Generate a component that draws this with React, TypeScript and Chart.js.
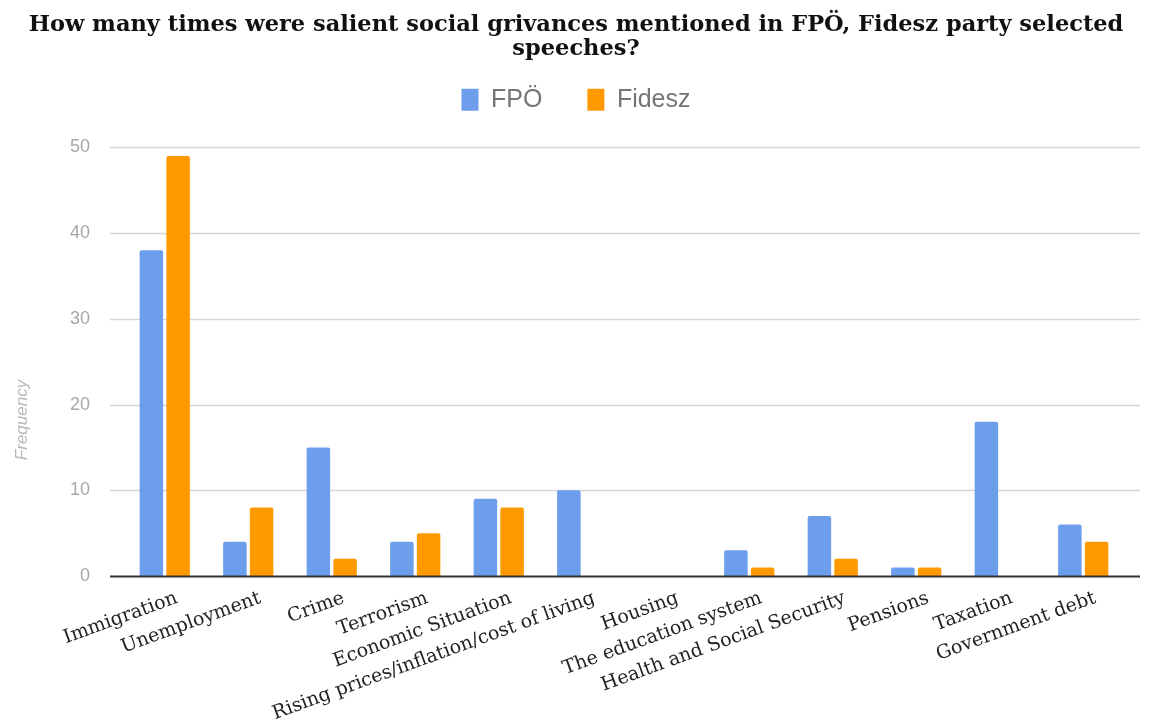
import React, { useEffect, useRef } from 'react';
import { Chart, registerables, layouts } from 'chart.js';

Chart.register(...registerables);

const titleLines = [
  'How many times were salient social grivances mentioned in FPÖ, Fidesz party selected',
  'speeches?',
];
const categories = [
  'Immigration',
  'Unemployment',
  'Crime',
  'Terrorism',
  'Economic Situation',
  'Rising prices/inflation/cost of living',
  'Housing',
  'The education system',
  'Health and Social Security',
  'Pensions',
  'Taxation',
  'Government debt',
];
const fpoValues = [38, 4, 15, 4, 9, 10, 0, 3, 7, 1, 18, 6];
const fideszValues = [49, 8, 2, 5, 8, 0, 0, 1, 2, 1, 0, 4];
const yTickValues = [0, 10, 20, 30, 40, 50];
const seriesNames = ['FPÖ', 'Fidesz'];
const yAxisTitle = 'Frequency';

const GRID_LEFT = 110;
const GRID_RIGHT = 1140;

function makeSpacer(position: string, size: number, weight: number) {
  const horizontal = position === 'top' || position === 'bottom';
  return {
    position,
    weight,
    fullSize: false,
    options: {},
    top: 0,
    left: 0,
    right: 0,
    bottom: 0,
    width: 0,
    height: 0,
    isHorizontal() {
      return horizontal;
    },
    update(maxWidth: number, maxHeight: number) {
      if (horizontal) {
        this.width = maxWidth;
        this.height = size;
      } else {
        this.width = size;
        this.height = maxHeight;
      }
      return { width: this.width, height: this.height };
    },
    draw() {},
    getPadding() {
      return { top: 0, left: 0, right: 0, bottom: 0 };
    },
  };
}

const spacerPlugin = {
  id: 'spacers',
  beforeInit(chart: any) {
    layouts.addBox(chart, makeSpacer('top', 25, 500) as any);
    layouts.addBox(chart, makeSpacer('right', 27, 500) as any);
  },
};

const extGridPlugin = {
  id: 'extGrid',
  beforeDatasetsDraw(chart: any) {
    const { ctx } = chart;
    const y = chart.scales.y;
    ctx.save();
    yTickValues.forEach((v) => {
      if (v === 0) return;
      const py = Math.round(y.getPixelForValue(v)) + 0.5;
      ctx.strokeStyle = '#d6d6d6';
      ctx.lineWidth = 1.3;
      ctx.beginPath();
      ctx.moveTo(GRID_LEFT, py);
      ctx.lineTo(GRID_RIGHT, py);
      ctx.stroke();
    });
    ctx.restore();
  },
  afterDatasetsDraw(chart: any) {
    const { ctx } = chart;
    const y = chart.scales.y;
    const py = Math.round(y.getPixelForValue(0)) + 0.5;
    ctx.save();
    ctx.strokeStyle = '#333333';
    ctx.lineWidth = 2;
    ctx.beginPath();
    ctx.moveTo(GRID_LEFT, py);
    ctx.lineTo(GRID_RIGHT, py);
    ctx.stroke();
    // y axis title
    ctx.translate(22, 420);
    ctx.rotate(-Math.PI / 2);
    ctx.fillStyle = '#b8b8b8';
    ctx.font = 'italic 17px "Liberation Sans", Arial, sans-serif';
    ctx.textAlign = 'center';
    ctx.textBaseline = 'middle';
    ctx.fillText(yAxisTitle, 0, 0);
    ctx.restore();
  },
};

export default function App() {
  const canvasRef = useRef<HTMLCanvasElement>(null);

  useEffect(() => {
    document.body.style.margin = '0';
    const canvas = canvasRef.current;
    if (!canvas) return;
    const chart = new Chart(canvas, {
      type: 'bar',
      data: {
        labels: categories,
        datasets: [
          {
            label: seriesNames[0],
            data: fpoValues,
            backgroundColor: '#6d9eeb',
            borderRadius: 2,
            categoryPercentage: 0.64,
            barPercentage: 0.88,
          },
          {
            label: seriesNames[1],
            data: fideszValues,
            backgroundColor: '#ff9900',
            borderRadius: 2,
            categoryPercentage: 0.64,
            barPercentage: 0.88,
          },
        ],
      },
      options: {
        animation: false,
        responsive: false,
        maintainAspectRatio: false,
        layout: { padding: 0 },
        plugins: {
          title: {
            display: true,
            text: titleLines,
            color: '#111111',
            font: { family: '"DejaVu Serif", Georgia, serif', size: 22.5, weight: 'bold', lineHeight: 1.03 },
            padding: { top: 14, bottom: -18 },
          },
          legend: {
            display: true,
            labels: {
              boxWidth: 17,
              boxHeight: 22,
              color: '#757575',
              padding: 45,
              font: { family: '"Liberation Sans", Arial, sans-serif', size: 25 },
            },
          },
          tooltip: { enabled: false },
        },
        scales: {
          x: {
            grid: { display: false },
            border: { display: false },
            ticks: {
              color: '#222222',
              font: { family: '"DejaVu Serif", Georgia, serif', size: 19 },
              minRotation: 20,
              maxRotation: 20,
              autoSkip: false,
              padding: 3,
              labelOffset: 12,
            },
            afterFit(scale: any) {
              scale.height = 150;
            },
          },
          y: {
            min: 0,
            max: 50,
            grid: { display: false },
            border: { display: false },
            ticks: {
              stepSize: 10,
              color: '#a8a8a8',
              padding: 25,
              font: { family: '"Liberation Sans", Arial, sans-serif', size: 18 },
            },
            afterFit(scale: any) {
              scale.width = 123;
            },
          },
        },
      },
      plugins: [spacerPlugin, extGridPlugin],
    });
    return () => chart.destroy();
  }, []);

  return (
    <div style={{ width: 1152, height: 726 }}>
      <canvas ref={canvasRef} width={1152} height={726} style={{ display: 'block' }} />
    </div>
  );
}
